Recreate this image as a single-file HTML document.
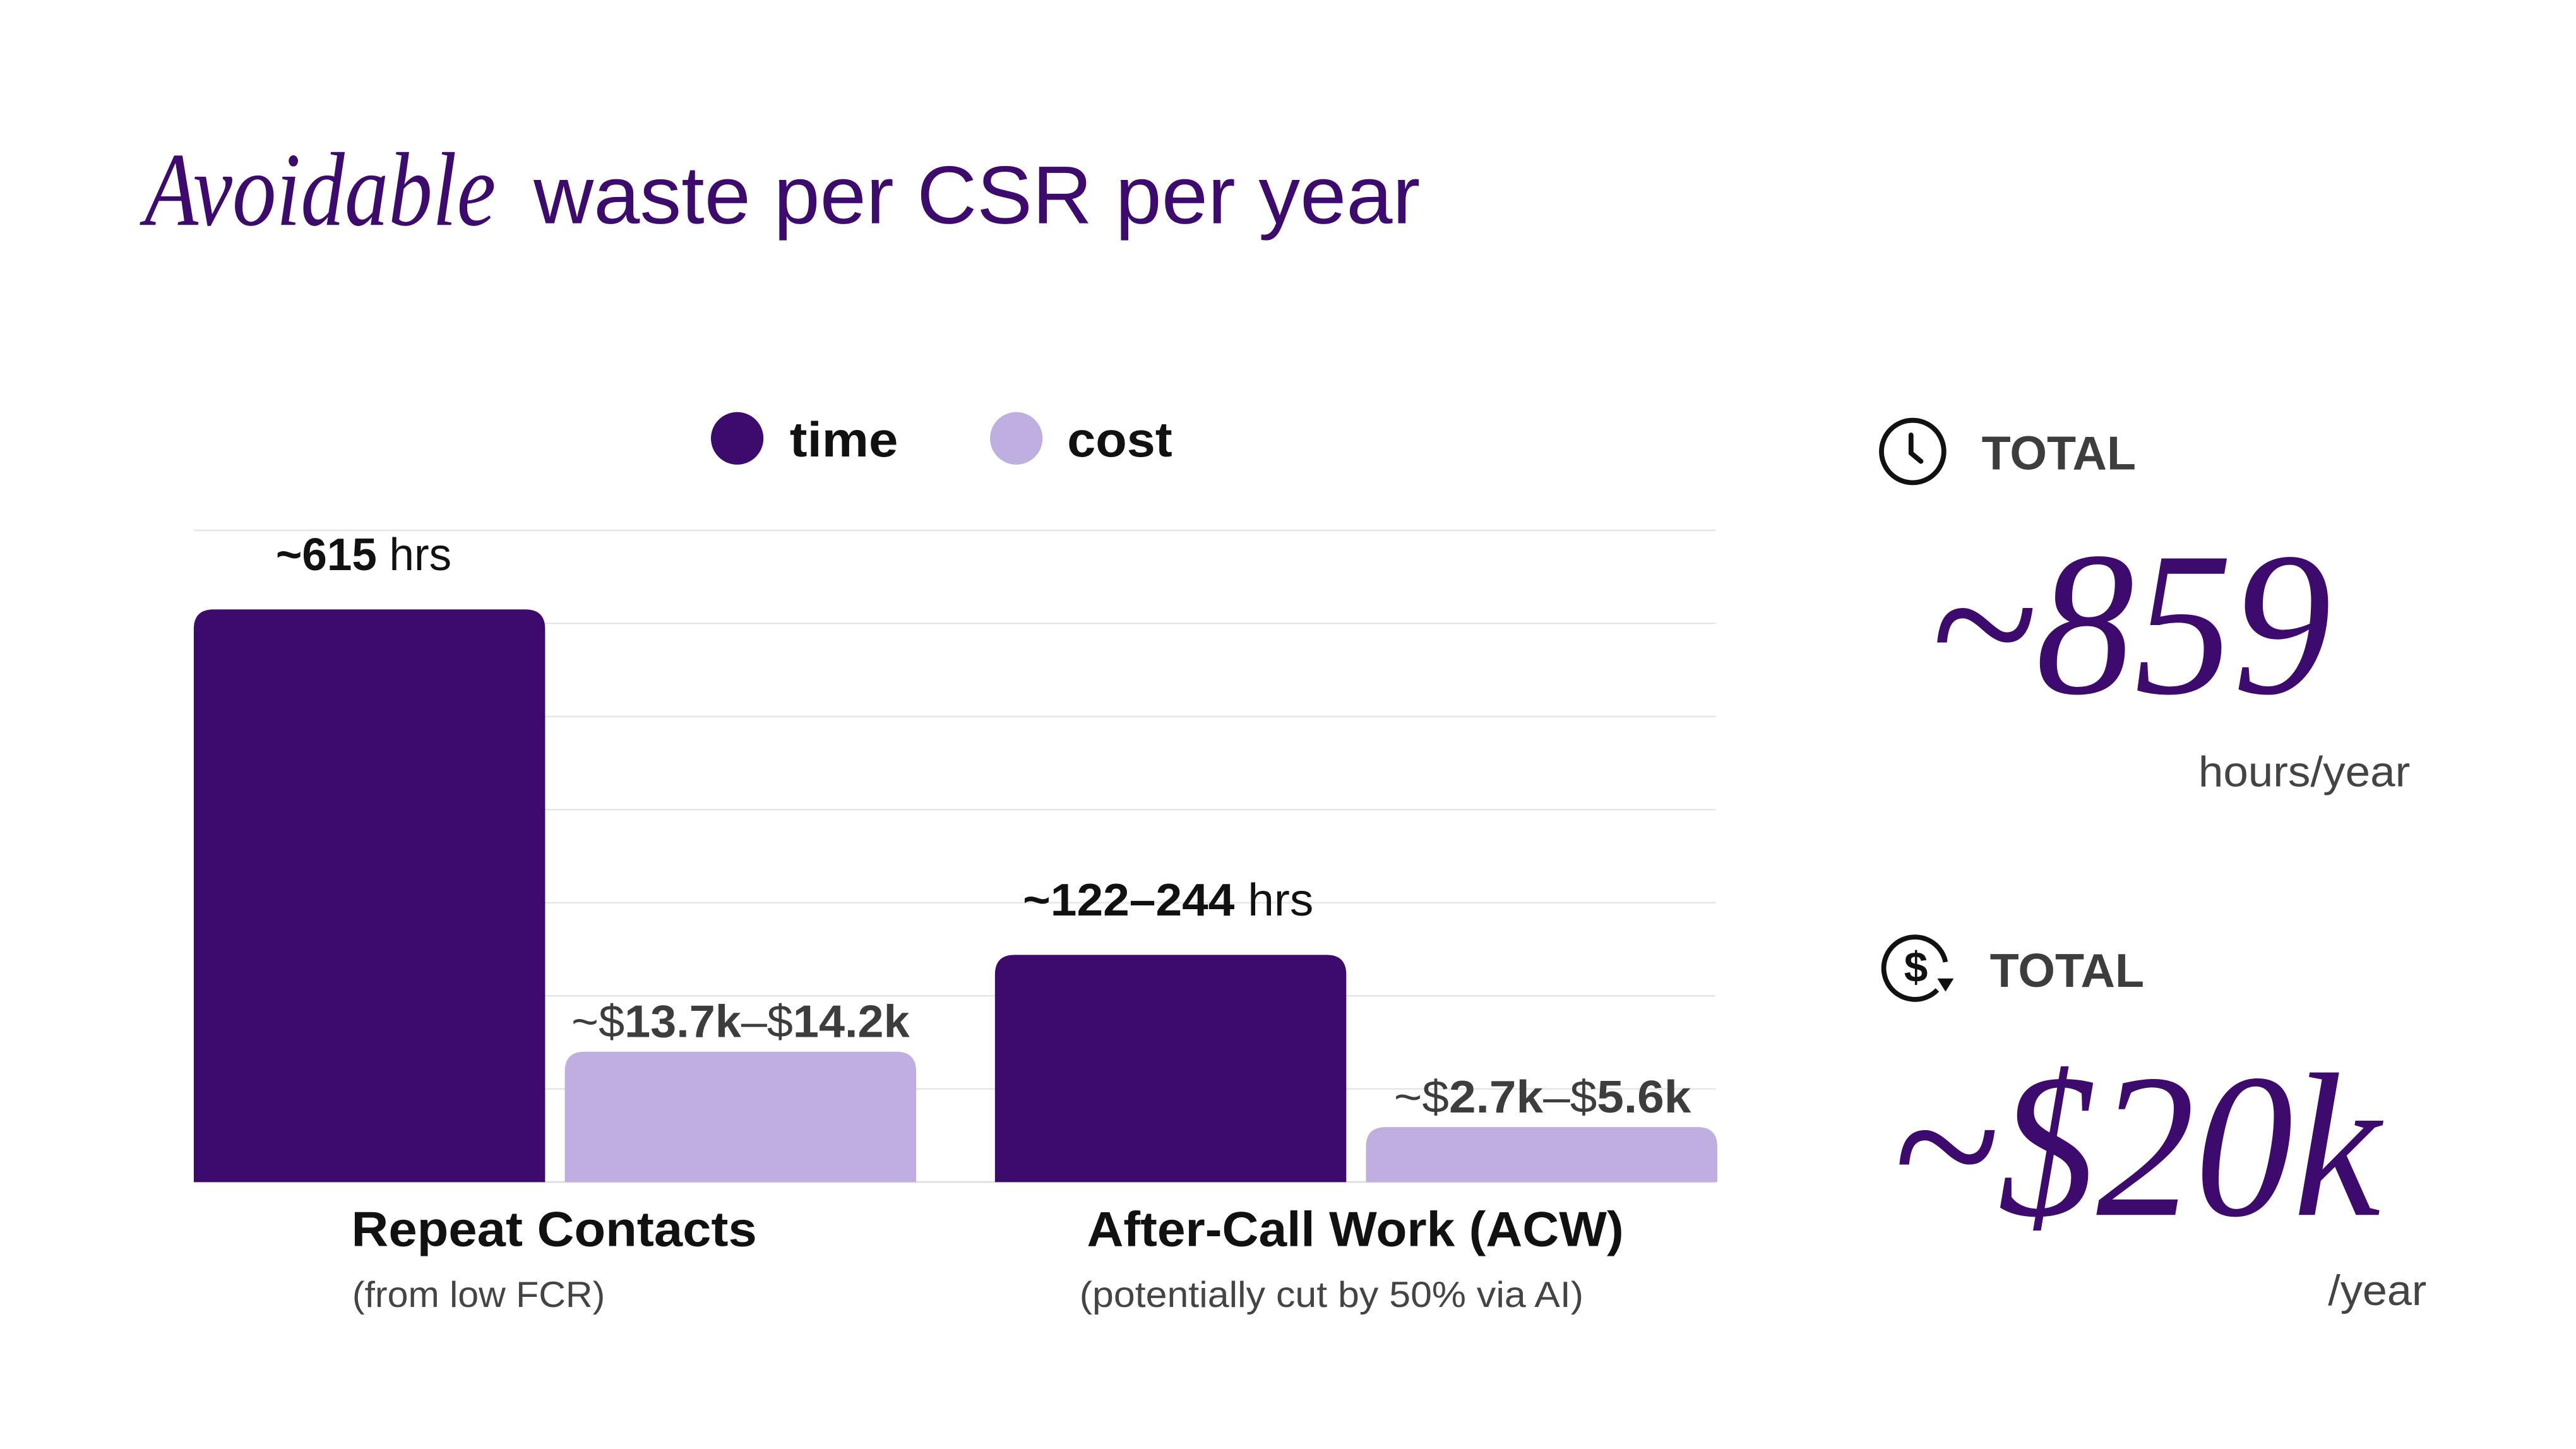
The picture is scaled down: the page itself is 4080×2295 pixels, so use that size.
<!DOCTYPE html>
<html><head><meta charset="utf-8"><style>
html,body{margin:0;padding:0;background:#fff;}
svg{display:block;}
.sans{font-family:"Liberation Sans",sans-serif;}
.serif{font-family:"Liberation Serif",serif;font-style:italic;}
</style></head><body>
<svg id="chart" width="4080" height="2295" viewBox="0 0 1569 882.6" xmlns="http://www.w3.org/2000/svg">
<rect width="1600" height="900" fill="#fff"/>
<g>
<text class="serif" x="88" y="137" font-size="64" fill="#3d0a6e" textLength="214" lengthAdjust="spacingAndGlyphs">Avoidable</text>
<text class="sans" x="325" y="136" font-size="50" fill="#3d0a6e" textLength="540" lengthAdjust="spacingAndGlyphs">waste per CSR per year</text>
</g>
<g>
<circle cx="449" cy="267" r="16" fill="#3d0a6e"/>
<text class="sans" x="481" y="278" font-size="30" font-weight="bold" fill="#111" textLength="66" lengthAdjust="spacingAndGlyphs">time</text>
<circle cx="619" cy="267" r="16" fill="#bfaee0"/>
<text class="sans" x="650" y="278" font-size="30" font-weight="bold" fill="#111" textLength="64" lengthAdjust="spacingAndGlyphs">cost</text>
</g>
<g id="grid"></g>
<g id="bars"></g>
<g id="labels"></g>
<g>
<g>
<circle cx="1165" cy="275" r="19" fill="none" stroke="#111" stroke-width="3"/>
<path d="M1164 265 L1164 276 L1170 281" fill="none" stroke="#111" stroke-width="3" stroke-linecap="round"/>
</g>
<text class="sans" x="1207" y="286" font-size="29" font-weight="bold" fill="#3d3d3d" textLength="94" lengthAdjust="spacingAndGlyphs">TOTAL</text>
<text class="serif" x="1175" y="422" font-size="125" fill="#3d0a6e" textLength="245" lengthAdjust="spacingAndGlyphs">~859</text>
<text class="sans" x="1468" y="479" font-size="26" fill="#444" text-anchor="end" textLength="129" lengthAdjust="spacingAndGlyphs">hours/year</text>
</g>
<g>
<g>
<path d="M1180 603 A19 19 0 1 1 1185 586" fill="none" stroke="#111" stroke-width="3"/>
<text class="sans" x="1167" y="598" font-size="26" font-weight="bold" fill="#111" text-anchor="middle">$</text>
<path d="M1180 596 L1190 596 L1185 604 Z" fill="#111"/>
</g>
<text class="sans" x="1212" y="601" font-size="29" font-weight="bold" fill="#3d3d3d" textLength="94" lengthAdjust="spacingAndGlyphs">TOTAL</text>
<text class="serif" x="1152" y="740" font-size="125" fill="#3d0a6e" textLength="298" lengthAdjust="spacingAndGlyphs">~$20k</text>
<text class="sans" x="1478" y="795" font-size="26" fill="#444" text-anchor="end" textLength="60" lengthAdjust="spacingAndGlyphs">/year</text>
</g>
<script>
const categories = ["Repeat Contacts", "After-Call Work (ACW)"];
const subtitles = ["(from low FCR)", "(potentially cut by 50% via AI)"];
const timeHours = [615, 244];
const costK = [14.0, 5.9];
const timeLabelBold = ["~615", "~122–244"];
const costLabelLo = ["13.7k", "2.7k"];
const costLabelHi = ["14.2k", "5.6k"];
const gridTicks = [0, 100, 200, 300, 400, 500, 600, 700];

const NS = "http://www.w3.org/2000/svg";
const plotL = 118, plotR = 1045, baseY = 720, topY = 323, maxV = 700;
function y(v){ return baseY - (v / maxV) * (baseY - topY); }
function yCost(k){ return y(k * 10); }
const groupW = (plotR - plotL + 49) / categories.length;
const barW = 214, gap = 12;
function groupX(i){ return plotL + i * groupW; }
const catW = [247, 327], subW = [154, 307], timeLW = [107, 177], costLW = [206, 181];

function mk(tag, attrs, parent){
  const e = document.createElementNS(NS, tag);
  for (const k in attrs) e.setAttribute(k, attrs[k]);
  parent.appendChild(e);
  return e;
}
function roundTopPath(x, yt, w, yb, r){
  r = Math.min(r, (yb - yt));
  return `M${x} ${yb} L${x} ${yt + r} Q${x} ${yt} ${x + r} ${yt} L${x + w - r} ${yt} Q${x + w} ${yt} ${x + w} ${yt + r} L${x + w} ${yb} Z`;
}
const grid = document.getElementById("grid");
gridTicks.forEach(t => {
  const l = mk("line", {x1: plotL, x2: plotR, y1: y(t), y2: y(t), stroke: "#e6e6e6", "stroke-width": 1}, grid);
  
  
});
const bars = document.getElementById("bars");
const labels = document.getElementById("labels");
categories.forEach((c, i) => {
  const x0 = groupX(i);
  const tb = mk("path", {d: roundTopPath(x0, y(timeHours[i]), barW, baseY, 12), fill: "#3d0a6e"}, bars);
  
  
  const cx = x0 + barW + gap;
  const cb = mk("path", {d: roundTopPath(cx, yCost(costK[i]), barW, baseY, 12), fill: "#bfaee0"}, bars);
  
  

  const tl = mk("text", {x: x0 + 50 + (i ? -33 : 0), y: y(timeHours[i]) - 24, "font-size": 28, fill: "#111", class: "sans", textLength: timeLW[i], lengthAdjust: "spacingAndGlyphs"}, labels);
  
  
  const b1 = mk("tspan", {"font-weight": "bold"}, tl); b1.textContent = timeLabelBold[i];
  const b2 = mk("tspan", {}, tl); b2.textContent = " hrs";

  const cl = mk("text", {x: cx + 4 + (i ? 13 : 0), y: yCost(costK[i]) - 9, "font-size": 28, fill: "#3d3d3d", class: "sans", textLength: costLW[i], lengthAdjust: "spacingAndGlyphs"}, labels);
  
  
  let s = mk("tspan", {}, cl); s.textContent = "~$";
  s = mk("tspan", {"font-weight": "bold"}, cl); s.textContent = costLabelLo[i];
  s = mk("tspan", {}, cl); s.textContent = "–$";
  s = mk("tspan", {"font-weight": "bold"}, cl); s.textContent = costLabelHi[i];

  const mid = x0 + barW + gap / 2;
  const cat = mk("text", {x: mid - 0.5, y: 759, "font-size": 30, "font-weight": "bold", fill: "#111", "text-anchor": "middle", class: "sans", textLength: catW[i], lengthAdjust: "spacingAndGlyphs"}, labels);
  
  
  cat.textContent = c;
  const sub = mk("text", {x: mid - catW[i] / 2 - (i ? 5 : 0), y: 796, "font-size": 22, fill: "#444", class: "sans", textLength: subW[i], lengthAdjust: "spacingAndGlyphs"}, labels);
  
  
  sub.textContent = subtitles[i];
});
const axis = mk("line", {x1: plotL, x2: plotR, y1: baseY, y2: baseY, stroke: "#dddddd", "stroke-width": 1}, grid);


</script>
</svg>
</body></html>
